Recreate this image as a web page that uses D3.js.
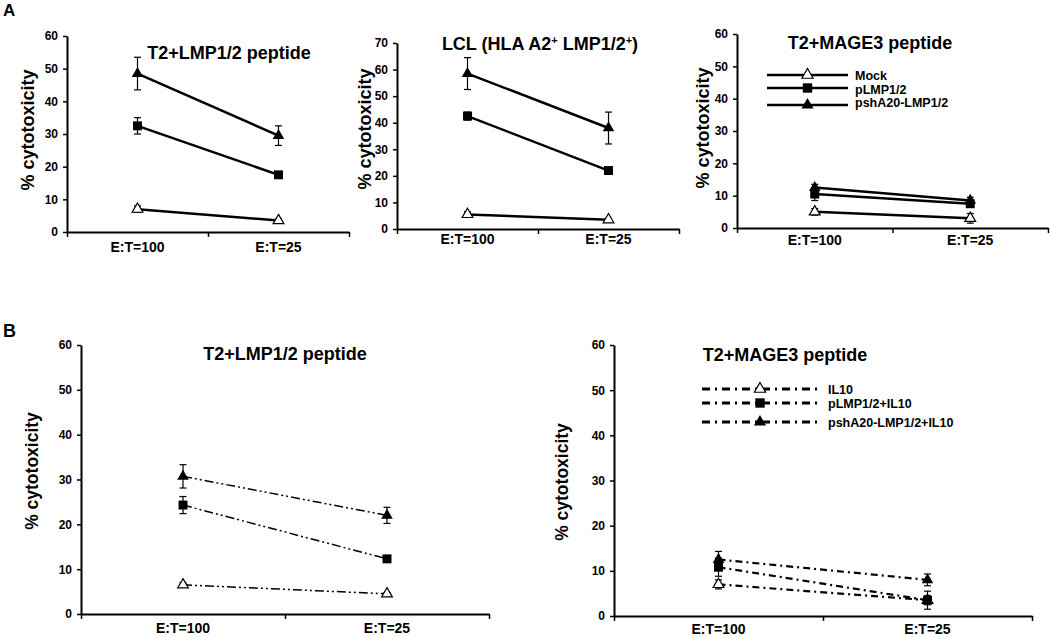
<!DOCTYPE html>
<html><head><meta charset="utf-8">
<script src="https://cdn.jsdelivr.net/npm/d3@7"></script>
<style>
html,body{margin:0;padding:0;background:#fff;}
svg{display:block;font-family:"Liberation Sans",Arial,sans-serif;}
</style></head>
<body>
<svg id="c" width="1050" height="637"></svg>
<script>
// ---------- DATA ----------
const categories = ["E:T=100", "E:T=25"];
const namesA = ["Mock", "pLMP1/2", "pshA20-LMP1/2"];
const namesB = ["IL10", "pLMP1/2+IL10", "pshA20-LMP1/2+IL10"];
const ticks60 = [0, 10, 20, 30, 40, 50, 60];
const ticks70 = [0, 10, 20, 30, 40, 50, 60, 70];

// Panel A1: T2+LMP1/2 peptide
const a1Mock = [7, 3.5],   a1MockErr = [1, 0.5];
const a1P    = [32.5, 17.5], a1PErr  = [2.5, 1];
const a1Psh  = [48.5, 29.5], a1PshErr = [5, 3];
// Panel A2: LCL
const a2Mock = [5.5, 3.5], a2MockErr = [1, 0.5];
const a2P    = [42.5, 22], a2PErr    = [1.5, 1];
const a2Psh  = [58.5, 38], a2PshErr  = [6, 6];
// Panel A3: T2+MAGE3 peptide
const a3Mock = [5, 3],     a3MockErr = [1, 1.5];
const a3P    = [10.5, 7.5], a3PErr   = [2, 1];
const a3Psh  = [12.5, 8.5], a3PshErr = [1, 1];
// Panel B1: T2+LMP1/2 peptide (+IL10)
const b1Mock = [6.5, 4.5], b1MockErr = [0.5, 0.3];
const b1P    = [24.3, 12.3], b1PErr  = [1.9, 0.5];
const b1Psh  = [30.7, 22], b1PshErr  = [2.6, 1.8];
// Panel B2: T2+MAGE3 peptide (+IL10)
const b2Mock = [7, 3.5],   b2MockErr = [1, 1];
const b2P    = [10.8, 3.5], b2PErr   = [2, 2];
const b2Psh  = [12.5, 8],  b2PshErr  = [1.8, 1.3];

// ---------- DRAW ----------
const svg = d3.select("#c");
svg.append("rect").attr("width",1050).attr("height",637).attr("fill","#fff");

const markerKinds = ["open", "square", "tri"];

function marker(g, kind, x, y, size) {
  const s = size || 1;
  if (kind === "square") {
    g.append("path").attr("d", d3.symbol(d3.symbolSquare, 80*s)())
      .attr("transform", `translate(${x},${y})`).attr("fill","#000");
  } else if (kind === "tri") {
    g.append("path").attr("d", d3.symbol(d3.symbolTriangle, 58*s)())
      .attr("transform", `translate(${x},${y})`).attr("fill","#000");
  } else {
    g.append("path").attr("d", d3.symbol(d3.symbolTriangle, 50*s)())
      .attr("transform", `translate(${x},${y})`).attr("fill","#fff")
      .attr("stroke","#000").attr("stroke-width",1.2);
  }
}

function panel(cfg) {
  const g = svg.append("g");
  const x = d3.scaleBand().domain(categories).range([cfg.x0, cfg.x1]).padding(0);
  const yMax = d3.max(cfg.ticks);
  const y = d3.scaleLinear().domain([0, yMax]).range([cfg.yb, cfg.yt]);
  const cx = c => x(c) + x.bandwidth()/2;

  // y axis
  const ya = g.append("g").attr("transform", `translate(${cfg.x0},0)`)
    .call(d3.axisLeft(y).tickValues(cfg.ticks).tickSize(4).tickSizeOuter(0).tickPadding(5));
  ya.select(".domain").attr("stroke-width", 2);
  ya.selectAll(".tick line").attr("stroke-width", 1.5);
  ya.selectAll(".tick text").attr("font-size", 12).attr("font-weight","bold").attr("fill","#000");

  // x axis: labels at band centres, ticks at band boundaries
  const xa = g.append("g").attr("transform", `translate(0,${cfg.yb})`)
    .call(d3.axisBottom(x).tickSize(0).tickPadding(cfg.labPad));
  xa.select(".domain").attr("stroke-width", 2);
  xa.selectAll(".tick text").attr("font-size", 14).attr("font-weight","bold").attr("fill","#000");
  const bounds = d3.scaleLinear().domain([0, categories.length]).range([cfg.x0, cfg.x1]);
  const xt = g.append("g").attr("transform", `translate(0,${cfg.yb})`)
    .call(d3.axisBottom(bounds).tickValues(d3.range(categories.length + 1)).tickSize(5).tickFormat(""));
  xt.select(".domain").remove();
  xt.selectAll("line").attr("stroke-width", 1.5);

  // y label
  g.append("text").attr("transform", `translate(${cfg.ylx},${cfg.yly}) rotate(-90)`)
    .attr("text-anchor","middle").attr("font-size", cfg.ylSize).attr("font-weight","bold")
    .text("% cytotoxicity");

  // title
  const t = g.append("text").attr("x", cfg.tx).attr("y", cfg.ty).attr("text-anchor","middle")
    .attr("font-size", 18).attr("font-weight","bold");
  if (cfg.titleParts) {
    cfg.titleParts.forEach(p => {
      const ts = t.append("tspan").text(p.t);
      if (p.sup) ts.attr("font-size", 11).attr("baseline-shift", "super");
    });
  } else t.text(cfg.title);

  // series
  cfg.series.forEach((s, i) => {
    const line = d3.line().x((d, j) => cx(categories[j])).y(d => y(d));
    g.append("path").datum(s.v).attr("d", line).attr("fill","none")
      .attr("stroke","#000").attr("stroke-width", cfg.lw)
      .attr("stroke-dasharray", cfg.dash || null);
    s.v.forEach((v, j) => {
      const px = cx(categories[j]);
      const e = s.e[j];
      g.append("line").attr("x1",px).attr("x2",px).attr("y1",y(v-e)).attr("y2",y(v+e))
        .attr("stroke","#000").attr("stroke-width",1.2);
      [v-e, v+e].forEach(ev => g.append("line").attr("x1",px-3.5).attr("x2",px+3.5)
        .attr("y1",y(ev)).attr("y2",y(ev)).attr("stroke","#000").attr("stroke-width",1.2));
      marker(g, markerKinds[i], px, y(v), cfg.ms);
    });
  });

  // legend
  if (cfg.legend) {
    const L = cfg.legend;
    L.names.forEach((n, i) => {
      const ly = L.rows[i];
      g.append("line").attr("x1", L.x1).attr("x2", L.x2).attr("y1", ly).attr("y2", ly)
        .attr("stroke","#000").attr("stroke-width", L.lw).attr("stroke-dasharray", L.dash || null);
      marker(g, markerKinds[i], (L.x1 + L.x2)/2, ly, 1.1);
      g.append("text").attr("x", L.tx).attr("y", L.texty[i]).attr("font-size", 12.5)
        .attr("font-weight","bold").text(n);
    });
  }
}

// panel letters
svg.append("text").attr("x", 3).attr("y", 16).attr("font-size", 17).attr("font-weight","bold")
  .attr("font-family","Liberation Sans, Arial, sans-serif").text("A");
svg.append("text").attr("x", 3).attr("y", 337).attr("font-size", 18).attr("font-weight","bold")
  .attr("font-family","Liberation Sans, Arial, sans-serif").text("B");

panel({x0:67, x1:349, yb:232, yt:36, ticks:ticks60, labPad:10, ylx:34, yly:130, ylSize:18,
  tx:229, ty:59, title:"T2+LMP1/2 peptide", lw:2.5,
  series:[{v:a1Mock,e:a1MockErr},{v:a1P,e:a1PErr},{v:a1Psh,e:a1PshErr}]});

panel({x0:397, x1:679, yb:229, yt:43, ticks:ticks70, labPad:5, ylx:371, yly:129, ylSize:18,
  tx:540, ty:50,
  titleParts:[{t:"LCL (HLA A2"},{t:"+",sup:true},{t:" LMP1/2"},{t:"+",sup:true},{t:")"}],
  lw:2.5,
  series:[{v:a2Mock,e:a2MockErr},{v:a2P,e:a2PErr},{v:a2Psh,e:a2PshErr}]});

panel({x0:737, x1:1048, yb:228, yt:34, ticks:ticks60, labPad:7, ylx:709, yly:128, ylSize:18,
  tx:870, ty:49, title:"T2+MAGE3 peptide", lw:2.5,
  series:[{v:a3Mock,e:a3MockErr},{v:a3P,e:a3PErr},{v:a3Psh,e:a3PshErr}],
  legend:{names:namesA, x1:767, x2:848, rows:[75,88,105], tx:855, texty:[80,94,107], lw:2.5}});

panel({x0:81, x1:489, yb:614, yt:345, ticks:ticks60, labPad:9, ylx:38, yly:471, ylSize:17.5,
  tx:285, ty:360, title:"T2+LMP1/2 peptide", lw:1.5, dash:"9,3,2,3,2,3",
  series:[{v:b1Mock,e:b1MockErr},{v:b1P,e:b1PErr},{v:b1Psh,e:b1PshErr}]});

panel({x0:614, x1:1032, yb:616, yt:345, ticks:ticks60, labPad:8, ylx:568, yly:482, ylSize:17.5,
  tx:785, ty:361, title:"T2+MAGE3 peptide", lw:2.2, dash:"7,4,2,4",
  series:[{v:b2Mock,e:b2MockErr},{v:b2P,e:b2PErr},{v:b2Psh,e:b2PshErr}],
  legend:{names:namesB, x1:702, x2:818, rows:[389,403,422], tx:828, texty:[394,408,427], lw:2.8, dash:"8,5,2,5"}});
</script>
</body></html>
